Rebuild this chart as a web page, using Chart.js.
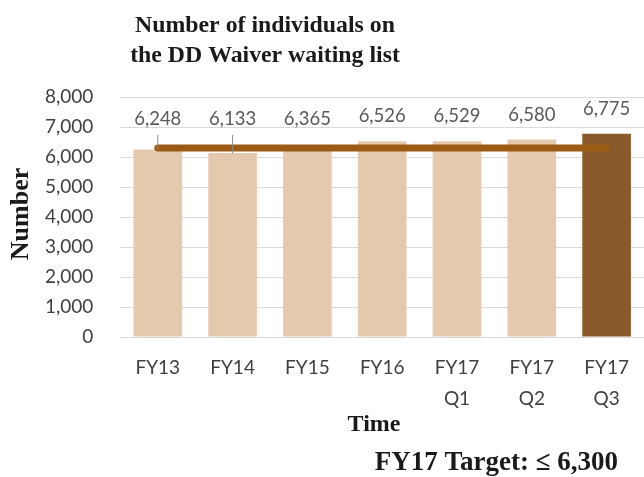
<!DOCTYPE html>
<html>
<head>
<meta charset="utf-8">
<script src="https://cdn.jsdelivr.net/npm/chart.js@4.4.1/dist/chart.umd.min.js"></script>
<style>
  html, body { margin: 0; padding: 0; background: #fff; }
  #wrap { width: 644px; height: 477px; }
</style>
</head>
<body>
<div id="wrap"><canvas id="grafico"></canvas></div>
<script>
// Datos del gráfico
const categorias = ['FY13', 'FY14', 'FY15', 'FY16', ['FY17', 'Q1'], ['FY17', 'Q2'], ['FY17', 'Q3']];
const listaEspera = [6248, 6133, 6365, 6526, 6529, 6580, 6775];
const meta17 = [6300, 6300, 6300, 6300, 6300, 6300, 6300];
const tituloLineas = ['Number of individuals on', 'the DD Waiver waiting list'];
const textoMeta = 'FY17 Target: \u2264 6,300';

const serif = '"Liberation Serif", "DejaVu Serif", serif';

// Etiquetas de datos + textos fijos
const etiquetas = {
    id: 'etiquetas',
    afterDatasetsDraw(chart) {
        const ctx = chart.ctx;
        const barras = chart.getDatasetMeta(0).data;
        const linea = chart.getDatasetMeta(1).data;
        ctx.save();
        ctx.font = '18.5px Lato';
        ctx.fillStyle = '#595959';
        ctx.textAlign = 'center';
        ctx.textBaseline = 'middle';
        barras.forEach((b, i) => {
            const topeLinea = linea[i].y - 4;
            const movida = b.y > linea[i].y;
            const y = Math.min(b.y, topeLinea) - 25;
            ctx.fillText(listaEspera[i].toLocaleString('en-US'), b.x, y);
            if (movida) {
                ctx.strokeStyle = '#8c8c8c';
                ctx.lineWidth = 1;
                ctx.beginPath();
                ctx.moveTo(b.x, y + 16);
                ctx.lineTo(b.x, b.y);
                ctx.stroke();
            }
        });
        ctx.restore();
    },
    afterDraw(chart) {
        const ctx = chart.ctx;
        ctx.save();
        ctx.fillStyle = '#1a1a1a';
        ctx.textBaseline = 'middle';
        ctx.textAlign = 'center';
        ctx.font = 'bold 23.8px ' + serif;
        ctx.fillText(tituloLineas[0], 265, 26);
        ctx.fillText(tituloLineas[1], 265, 56);
        ctx.font = 'bold 24px ' + serif;
        ctx.fillText('Time', 374, 425);
        ctx.font = 'bold 27px ' + serif;
        ctx.textAlign = 'right';
        ctx.fillText(textoMeta, 618, 463);
        ctx.translate(21, 214);
        ctx.rotate(-Math.PI / 2);
        ctx.textAlign = 'center';
        ctx.font = 'bold 26px ' + serif;
        ctx.fillText('Number', 0, 0);
        ctx.restore();
    }
};

const ctxGrafico = document.getElementById('grafico').getContext('2d');
new Chart(ctxGrafico, {
    type: 'bar',
    data: {
        labels: categorias,
        datasets: [{
            label: 'Number',
            data: listaEspera,
            backgroundColor: ['#e5c9ad', '#e5c9ad', '#e5c9ad', '#e5c9ad', '#e5c9ad', '#e5c9ad', '#8b5a2b'],
            barPercentage: 0.65,
            categoryPercentage: 1,
            order: 2
        }, {
            type: 'line',
            label: 'FY17 Target',
            data: meta17,
            borderColor: '#9c5b14',
            borderWidth: 7,
            borderCapStyle: 'round',
            pointRadius: 0,
            fill: false,
            order: 1
        }]
    },
    options: {
        responsive: true,
        maintainAspectRatio: false,
        animation: false,
        layout: {
            padding: { top: 97, left: 18, right: 0, bottom: 48 }
        },
        scales: {
            x: {
                grid: { display: false, drawTicks: false },
                border: { display: false },
                ticks: {
                    color: '#404040',
                    padding: 15,
                    maxRotation: 0,
                    autoSkip: false,
                    font: { family: 'Lato', size: 19, lineHeight: 1.63 }
                }
            },
            y: {
                min: 0,
                max: 8000,
                grid: { color: '#d9d9d9', drawTicks: false },
                border: { display: false },
                ticks: {
                    stepSize: 1000,
                    color: '#404040',
                    padding: 27,
                    font: { family: 'Lato', size: 19 },
                    callback: v => v.toLocaleString('en-US')
                }
            }
        },
        plugins: {
            legend: { display: false },
            tooltip: { enabled: false }
        }
    },
    plugins: [etiquetas]
});
</script>
</body>
</html>
